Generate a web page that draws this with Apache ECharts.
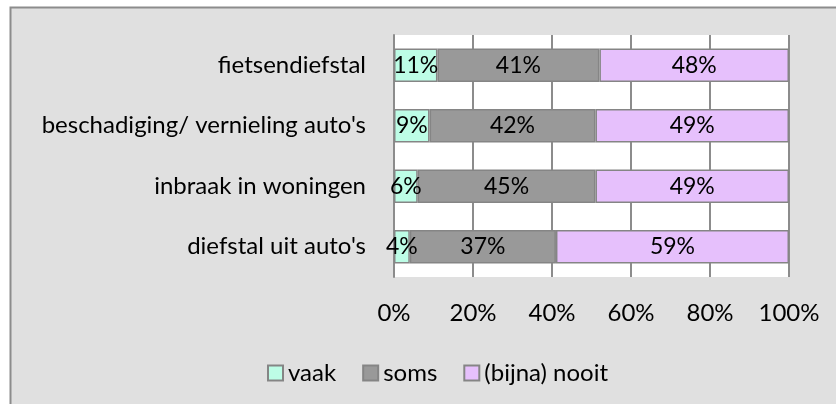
<!DOCTYPE html>
<html>
<head>
<meta charset="utf-8">
<script src="https://cdn.jsdelivr.net/npm/echarts@6/dist/echarts.min.js"></script>
<style>
  html, body { margin: 0; padding: 0; background: #fff; }
  #chart { width: 836px; height: 404px; }
</style>
</head>
<body>
<div id="chart"></div>
<script>
// categories from bottom to top
const categories = ["diefstal uit auto's", 'inbraak in woningen', "beschadiging/ vernieling auto's", 'fietsendiefstal']
const vaak = [4, 6, 9, 11]
const soms = [37, 45, 42, 41]
const nooit = [59, 49, 49, 48]
const xTicks = [0, 20, 40, 60, 80, 100]

const font = 'Lato'
const fs = 24
const chart = echarts.init(document.getElementById('chart'))

const mkSeries = (name, data, color) => ({
  name,
  type: 'bar',
  stack: 'total',
  data,
  barWidth: '55%',
  itemStyle: { color, borderColor: '#858585', borderWidth: 1.5 },
  label: {
    show: true,
    position: 'inside',
    formatter: (p) => p.value + '%',
    color: '#000',
    fontFamily: font,
    fontSize: 23
  }
})

chart.setOption({
  backgroundColor: '#fff',
  animation: false,
  graphic: [
    {
      type: 'rect',
      z: -10,
      shape: { x: 10.5, y: 7.5, width: 840, height: 410 },
      style: { fill: '#e0e0e0', stroke: '#8c8c8c', lineWidth: 2 }
    }
  ],
  grid: {
    left: 394,
    right: 47,
    top: 35,
    bottom: 127,
    show: true,
    backgroundColor: '#fff',
    borderWidth: 0
  },
  xAxis: {
    type: 'value',
    min: xTicks[0],
    max: xTicks[xTicks.length - 1],
    interval: 20,
    axisLine: { show: false },
    axisTick: { show: false },
    axisLabel: {
      formatter: '{value}%',
      color: '#000',
      fontFamily: font,
      fontSize: fs,
      margin: 24
    },
    splitLine: { lineStyle: { color: '#8c8c8c', width: 2 } }
  },
  yAxis: {
    type: 'category',
    data: categories,
    axisLine: { show: true, lineStyle: { color: '#8c8c8c', width: 2 } },
    axisTick: { show: false },
    axisLabel: {
      color: '#000',
      fontFamily: font,
      fontSize: fs,
      margin: 28
    }
  },
  legend: {
    left: 262,
    top: 356,
    itemWidth: 15,
    itemHeight: 15,
    itemGap: 26,
    icon: 'rect',
    textStyle: { color: '#000', fontFamily: font, fontSize: fs, padding: [0, 0, 0, 0] },
    data: ['vaak', 'soms', '(bijna) nooit']
  },
  series: [
    mkSeries('vaak', vaak, '#bdfde6'),
    mkSeries('soms', soms, '#999999'),
    mkSeries('(bijna) nooit', nooit, '#e6c0fc')
  ]
})
</script>
</body>
</html>
